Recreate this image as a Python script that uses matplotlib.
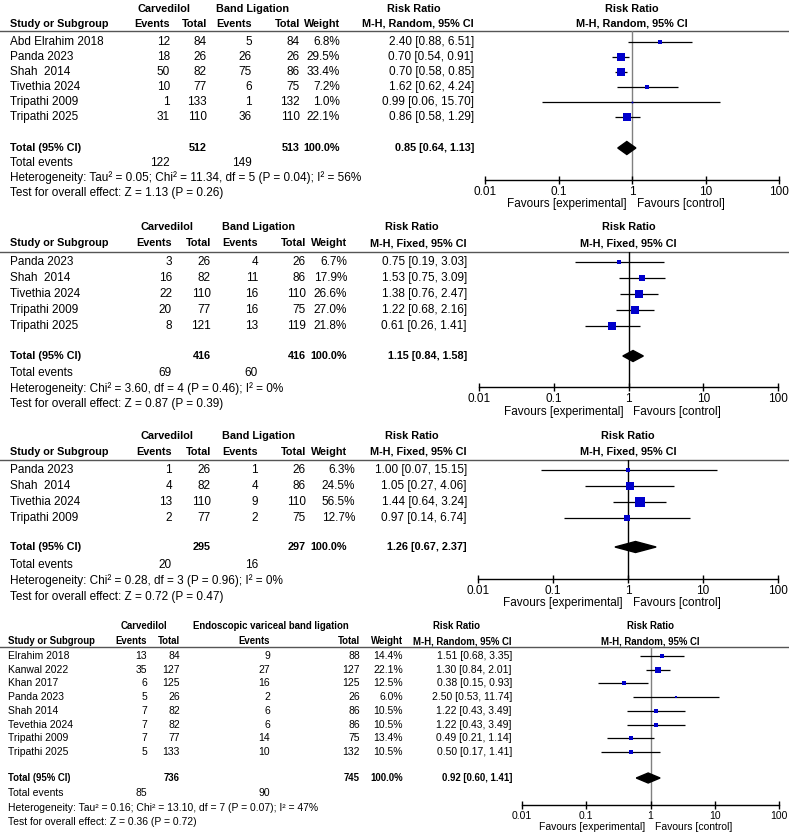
import matplotlib
matplotlib.use("Agg")
import matplotlib.pyplot as plt
import numpy as np

W, H = 789, 839
FONT = "Liberation Sans"
BLUE = "#0000cc"

# ---------------- panel 1 (M-H, Random) ----------------
studies_1 = ["Abd Elrahim 2018", "Panda 2023", "Shah  2014", "Tivethia 2024",
             "Tripathi 2009", "Tripathi 2025"]
carv_ev_1 = [12, 18, 50, 10, 1, 31]
carv_n_1 = [84, 26, 82, 77, 133, 110]
ctl_ev_1 = [5, 26, 75, 6, 1, 36]
ctl_n_1 = [84, 26, 86, 75, 132, 110]
weight_1 = [6.8, 29.5, 33.4, 7.2, 1.0, 22.1]
rr_1 = [2.40, 0.70, 0.70, 1.62, 0.99, 0.86]
lo_1 = [0.88, 0.54, 0.58, 0.62, 0.06, 0.58]
hi_1 = [6.51, 0.91, 0.85, 4.24, 15.70, 1.29]
total_1 = [512, 513, 0.85, 0.64, 1.13, 122, 149]
het_1 = "Heterogeneity: Tau\u00b2 = 0.05; Chi\u00b2 = 11.34, df = 5 (P = 0.04); I\u00b2 = 56%"
test_1 = "Test for overall effect: Z = 1.13 (P = 0.26)"

# ---------------- panel 2 (M-H, Fixed) ----------------
studies_2 = ["Panda 2023", "Shah  2014", "Tivethia 2024", "Tripathi 2009", "Tripathi 2025"]
carv_ev_2 = [3, 16, 22, 20, 8]
carv_n_2 = [26, 82, 110, 77, 121]
ctl_ev_2 = [4, 11, 16, 16, 13]
ctl_n_2 = [26, 86, 110, 75, 119]
weight_2 = [6.7, 17.9, 26.6, 27.0, 21.8]
rr_2 = [0.75, 1.53, 1.38, 1.22, 0.61]
lo_2 = [0.19, 0.75, 0.76, 0.68, 0.26]
hi_2 = [3.03, 3.09, 2.47, 2.16, 1.41]
total_2 = [416, 416, 1.15, 0.84, 1.58, 69, 60]
het_2 = "Heterogeneity: Chi\u00b2 = 3.60, df = 4 (P = 0.46); I\u00b2 = 0%"
test_2 = "Test for overall effect: Z = 0.87 (P = 0.39)"

# ---------------- panel 3 (M-H, Fixed) ----------------
studies_3 = ["Panda 2023", "Shah  2014", "Tivethia 2024", "Tripathi 2009"]
carv_ev_3 = [1, 4, 13, 2]
carv_n_3 = [26, 82, 110, 77]
ctl_ev_3 = [1, 4, 9, 2]
ctl_n_3 = [26, 86, 110, 75]
weight_3 = [6.3, 24.5, 56.5, 12.7]
rr_3 = [1.00, 1.05, 1.44, 0.97]
lo_3 = [0.07, 0.27, 0.64, 0.14]
hi_3 = [15.15, 4.06, 3.24, 6.74]
total_3 = [295, 297, 1.26, 0.67, 2.37, 20, 16]
het_3 = "Heterogeneity: Chi\u00b2 = 0.28, df = 3 (P = 0.96); I\u00b2 = 0%"
test_3 = "Test for overall effect: Z = 0.72 (P = 0.47)"

# ---------------- panel 4 (M-H, Random) ----------------
studies_4 = ["Elrahim 2018", "Kanwal 2022", "Khan 2017", "Panda 2023", "Shah 2014",
             "Tevethia 2024", "Tripathi 2009", "Tripathi 2025"]
carv_ev_4 = [13, 35, 6, 5, 7, 7, 7, 5]
carv_n_4 = [84, 127, 125, 26, 82, 82, 77, 133]
ctl_ev_4 = [9, 27, 16, 2, 6, 6, 14, 10]
ctl_n_4 = [88, 127, 125, 26, 86, 86, 75, 132]
weight_4 = [14.4, 22.1, 12.5, 6.0, 10.5, 10.5, 13.4, 10.5]
rr_4 = [1.51, 1.30, 0.38, 2.50, 1.22, 1.22, 0.49, 0.50]
lo_4 = [0.68, 0.84, 0.15, 0.53, 0.43, 0.43, 0.21, 0.17]
hi_4 = [3.35, 2.01, 0.93, 11.74, 3.49, 3.49, 1.14, 1.41]
total_4 = [736, 745, 0.92, 0.60, 1.41, 85, 90]
het_4 = "Heterogeneity: Tau\u00b2 = 0.16; Chi\u00b2 = 13.10, df = 7 (P = 0.07); I\u00b2 = 47%"
test_4 = "Test for overall effect: Z = 0.36 (P = 0.72)"

tick_vals = [0.01, 0.1, 1, 10, 100]
tick_labels = ["0.01", "0.1", "1", "10", "100"]

panels = [
    dict(studies=studies_1, ce=carv_ev_1, cn=carv_n_1, te=ctl_ev_1, tn=ctl_n_1, w=weight_1,
         rr=rr_1, lo=lo_1, hi=hi_1, tot=total_1, het=het_1, test=test_1,
         ctl="Band Ligation", method="M-H, Random, 95% CI"),
    dict(studies=studies_2, ce=carv_ev_2, cn=carv_n_2, te=ctl_ev_2, tn=ctl_n_2, w=weight_2,
         rr=rr_2, lo=lo_2, hi=hi_2, tot=total_2, het=het_2, test=test_2,
         ctl="Band Ligation", method="M-H, Fixed, 95% CI"),
    dict(studies=studies_3, ce=carv_ev_3, cn=carv_n_3, te=ctl_ev_3, tn=ctl_n_3, w=weight_3,
         rr=rr_3, lo=lo_3, hi=hi_3, tot=total_3, het=het_3, test=test_3,
         ctl="Band Ligation", method="M-H, Fixed, 95% CI"),
    dict(studies=studies_4, ce=carv_ev_4, cn=carv_n_4, te=ctl_ev_4, tn=ctl_n_4, w=weight_4,
         rr=rr_4, lo=lo_4, hi=hi_4, tot=total_4, het=het_4, test=test_4,
         ctl="Endoscopic variceal band ligation", method="M-H, Random, 95% CI"),
]

# layout in pixels (y downwards)
layouts = [
    dict(fs=8.5, y1=9, y2=24, line=31, row0=42, step=15, total=148, events=163, het=178, test=193,
         axis=180, fav=204, sx=10, ce=170, cn=207, te=252, tn=300, w=340, wt=340, rr=474,
         carv_c=164, ctl_c=253, rr_c=414, px0=485, px1=779, k=1.5, dh=13, vcol="#808080"),
    dict(fs=8.5, y1=227, y2=243, line=252, row0=262, step=15.9, total=356, events=373, het=389,
         test=404, axis=387, fav=412, sx=10, ce=172, cn=211, te=258, tn=306, w=347, wt=347, rr=467,
         carv_c=167, ctl_c=259, rr_c=412, px0=479, px1=778, k=1.5, dh=11, vcol="black"),
    dict(fs=8.5, y1=436, y2=452, line=460, row0=470, step=16, total=547, events=565, het=581,
         test=597, axis=579, fav=603, sx=10, ce=172, cn=211, te=258, tn=306, w=355, wt=347, rr=467,
         carv_c=167, ctl_c=259, rr_c=412, px0=478, px1=778, k=1.45, dh=11, vcol="black"),
    dict(fs=7.5, y1=626, y2=641, line=647, row0=656, step=13.7, total=778, events=793, het=808,
         test=822, axis=805, fav=827, sx=8, ce=147, cn=180, te=270, tn=360, w=403, wt=403, rr=512,
         carv_c=144, ctl_c=271, rr_c=457, px0=522, px1=779, k=1.1, dh=10, vcol="#808080"),
]

fig = plt.figure(figsize=(W / 100, H / 100), dpi=100)
ax0 = fig.add_axes([0, 0, 1, 1])
ax0.set_xlim(0, W)
ax0.set_ylim(H, 0)
ax0.axis("off")


def rr_text(r, l, h):
    return f"{r:.2f} [{l:.2f}, {h:.2f}]"


def draw_panel(d, L):
    kw = dict(fontsize=L["fs"], family=FONT, va="center")
    bkw = dict(kw, weight="bold", fontsize=L["fs"] * 0.92)
    one_x = (L["px0"] + L["px1"]) / 2

    # column headers
    ax0.text(L["carv_c"], L["y1"], "Carvedilol", ha="center", **bkw)
    ax0.text(L["ctl_c"], L["y1"], d["ctl"], ha="center", **bkw)
    ax0.text(L["rr_c"], L["y1"], "Risk Ratio", ha="center", **bkw)
    ax0.text(one_x, L["y1"], "Risk Ratio", ha="center", **bkw)
    ax0.text(L["sx"], L["y2"], "Study or Subgroup", ha="left", **bkw)
    for key, lab in [("ce", "Events"), ("cn", "Total"), ("te", "Events"), ("tn", "Total"),
                     ("wt", "Weight"), ("rr", d["method"])]:
        ax0.text(L[key], L["y2"], lab, ha="right", **bkw)
    ax0.text(one_x, L["y2"], d["method"], ha="center", **bkw)
    ax0.plot([0, W], [L["line"], L["line"]], color="#555555", lw=1)

    # study rows
    ys = [L["row0"] + i * L["step"] for i in range(len(d["studies"]))]
    for i, y in enumerate(ys):
        ax0.text(L["sx"], y, d["studies"][i], ha="left", **kw)
        ax0.text(L["ce"], y, str(d["ce"][i]), ha="right", **kw)
        ax0.text(L["cn"], y, str(d["cn"][i]), ha="right", **kw)
        ax0.text(L["te"], y, str(d["te"][i]), ha="right", **kw)
        ax0.text(L["tn"], y, str(d["tn"][i]), ha="right", **kw)
        ax0.text(L["w"], y, f"{d['w'][i]:.1f}%", ha="right", **kw)
        ax0.text(L["rr"], y, rr_text(d["rr"][i], d["lo"][i], d["hi"][i]), ha="right", **kw)

    # total
    cn_t, tn_t, est, tlo, thi, ev_c, ev_t = d["tot"]
    ax0.text(L["sx"], L["total"], "Total (95% CI)", ha="left", **bkw)
    ax0.text(L["cn"], L["total"], str(cn_t), ha="right", **bkw)
    ax0.text(L["tn"], L["total"], str(tn_t), ha="right", **bkw)
    ax0.text(L["wt"], L["total"], "100.0%", ha="right", **bkw)
    ax0.text(L["rr"], L["total"], rr_text(est, tlo, thi), ha="right", **bkw)
    ax0.text(L["sx"], L["events"], "Total events", ha="left", **kw)
    ax0.text(L["ce"], L["events"], str(ev_c), ha="right", **kw)
    ax0.text(L["te"], L["events"], str(ev_t), ha="right", **kw)
    ax0.text(L["sx"], L["het"], d["het"], ha="left", **kw)
    ax0.text(L["sx"], L["test"], d["test"], ha="left", **kw)

    ax0.text(one_x - 5, L["fav"], "Favours [experimental]", ha="right", **kw)
    ax0.text(one_x + 5, L["fav"], "Favours [control]", ha="left", **kw)

    # forest axes
    fa = fig.add_axes([L["px0"] / W, 1 - L["axis"] / H,
                       (L["px1"] - L["px0"]) / W, (L["axis"] - L["line"]) / H])
    fa.set_facecolor("none")
    fa.set_xscale("log")
    fa.set_xlim(0.01, 100)
    fa.set_ylim(L["axis"], L["line"])
    for s in ["top", "left", "right"]:
        fa.spines[s].set_visible(False)
    fa.spines["bottom"].set_linewidth(1)
    fa.set_yticks([])
    fa.set_xticks(tick_vals)
    fa.set_xticklabels(tick_labels, fontsize=L["fs"], family=FONT)
    fa.minorticks_off()
    fa.tick_params(axis="x", direction="inout", length=6, width=1, pad=1.5)
    fa.axvline(1, color=L["vcol"], lw=1, zorder=1)

    fa.hlines(ys, d["lo"], d["hi"], color="black", lw=0.9, zorder=2)
    for i, y in enumerate(ys):
        side_px = L["k"] * np.sqrt(d["w"][i])
        fa.plot(d["rr"][i], y, marker="s", ms=max(side_px * 0.72, 1.2), color=BLUE,
                mec=BLUE, mew=0, zorder=3)
    h = L["dh"] / 2
    fa.fill([tlo, est, thi, est], [L["total"], L["total"] - h, L["total"], L["total"] + h],
            color="black", zorder=3)


for d, L in zip(panels, layouts):
    draw_panel(d, L)

fig.savefig("out.png", dpi=100)
